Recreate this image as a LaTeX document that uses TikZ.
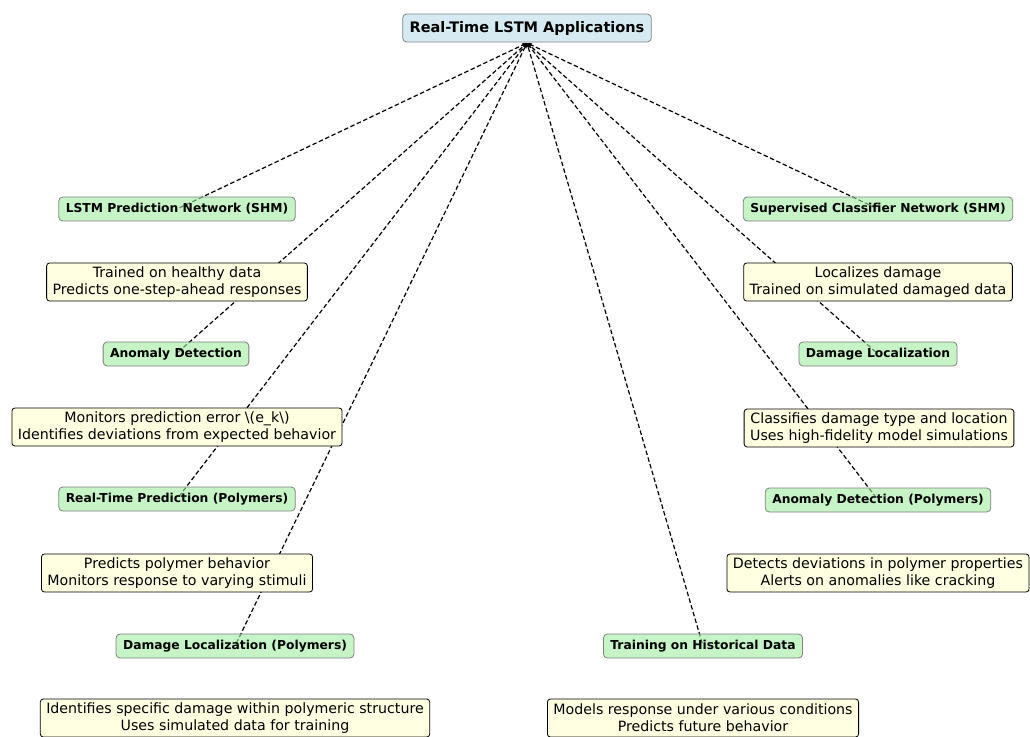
\documentclass[tikz,border=0pt]{standalone}
\usepackage{fontspec}
\setmainfont{DejaVu Sans}
\usetikzlibrary{arrows.meta,backgrounds}
\definecolor{rootfill}{RGB}{214,234,242}
\definecolor{leaffill}{RGB}{160,236,160}
\definecolor{notefill}{RGB}{255,255,226}
\begin{document}
\begin{tikzpicture}[x=1pt,y=-1pt,
  rootbox/.style={draw=gray, fill=rootfill, rounded corners=4pt, line width=0.8pt,
    font=\fontsize{14.5}{16}\selectfont\bfseries, inner xsep=7pt, minimum height=28pt},
  leafbox/.style={draw=gray, fill=leaffill, fill opacity=0.6, text opacity=1, rounded corners=4pt,
    line width=0.8pt, font=\fontsize{12.3}{14}\selectfont\bfseries, inner xsep=7pt, minimum height=24pt},
  notebox/.style={draw=black, fill=notefill, rounded corners=3pt, line width=0.8pt,
    font=\fontsize{14.2}{16.8}\selectfont, align=center, inner xsep=6pt, inner ysep=2pt, minimum height=38pt},
  link/.style={dashed, dash pattern=on 4.5pt off 2.5pt, line width=1.2pt,
    -{Stealth[length=5pt,width=4pt]}, shorten <=3pt}]
\useasboundingbox (0,0) rectangle (1030,736);

% root
\node[rootbox] (root) at (527,28) {Real-Time LSTM Applications};
\coordinate (hub) at (527,43);

% applications
\node[leafbox] (lstm)  at (177,209) {LSTM Prediction Network (SHM)};
\node[leafbox] (sup)   at (878,209) {Supervised Classifier Network (SHM)};
\node[leafbox] (anom)  at (176,354) {Anomaly Detection};
\node[leafbox] (dloc)  at (878,354) {Damage Localization};
\node[leafbox] (rtp)   at (177,499) {Real-Time Prediction (Polymers)};
\node[leafbox] (adp)   at (878,500) {Anomaly Detection (Polymers)};
\node[leafbox] (dlp)   at (235,646) {Damage Localization (Polymers)};
\node[leafbox] (hist)  at (703,646) {Training on Historical Data};

% descriptions
\node[notebox] (n1) at (177,282) {Trained on healthy data\\Predicts one-step-ahead responses};
\node[notebox] (n2) at (878,282) {Localizes damage\\Trained on simulated damaged data};
\node[notebox] (n3) at (177,427) {Monitors prediction error \textbackslash(e\_k\textbackslash)\\Identifies deviations from expected behavior};
\node[notebox] (n4) at (879,428) {Classifies damage type and location\\Uses high-fidelity model simulations};
\node[notebox] (n5) at (177,573) {Predicts polymer behavior\\Monitors response to varying stimuli};
\node[notebox] (n6) at (878,573) {Detects deviations in polymer properties\\Alerts on anomalies like cracking};
\node[notebox] (n7) at (235,718) {Identifies specific damage within polymeric structure\\Uses simulated data for training};
\node[notebox] (n8) at (703,718) {Models response under various conditions\\Predicts future behavior};

% connectors
\begin{scope}[on background layer]
  \foreach \n in {lstm,sup,anom,dloc,rtp,adp,dlp,hist}
    \draw[link] (\n.center) -- (hub);
\end{scope}
\end{tikzpicture}
\end{document}
